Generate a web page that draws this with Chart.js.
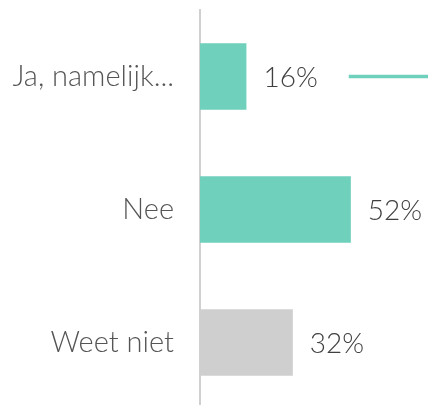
<!DOCTYPE html>
<html><head><meta charset="utf-8">
<script src="https://cdn.jsdelivr.net/npm/chart.js@4"></script>
<style>
html,body{margin:0;padding:0;background:#fff;overflow:hidden;}
#wrap{position:relative;width:428px;height:409px;}
</style></head>
<body>
<div id="wrap"><canvas id="c"></canvas></div>
<script>
const categories = ["Ja, namelijk...", "Nee", "Weet niet"];
const values = [16, 52, 32];
const valueLabels = ["16%", "52%", "32%"];
const barColors = ["#6fd0bc", "#6fd0bc", "#cfcfcf"];
const connector = [[51.4, 80], null, null];

const valueLabelPlugin = {
  id: 'valueLabels',
  afterDatasetsDraw(chart) {
    const ctx = chart.ctx;
    const meta = chart.getDatasetMeta(0);
    ctx.save();
    ctx.font = '300 28px Lato';
    ctx.fillStyle = '#404040';
    ctx.textAlign = 'left';
    ctx.textBaseline = 'middle';
    meta.data.forEach((bar, i) => {
      ctx.fillText(valueLabels[i], bar.x + 17, bar.y + 1);
    });
    ctx.restore();
  }
};

new Chart(document.getElementById('c'), {
  type: 'bar',
  data: {
    labels: categories,
    datasets: [
      { data: values, backgroundColor: barColors, categoryPercentage: 1, barPercentage: 0.5, grouped: false, order: 1 },
      { data: connector, backgroundColor: "#6fd0bc", barThickness: 3, grouped: false, order: 2 }
    ]
  },
  options: {
    indexAxis: 'y',
    responsive: true,
    maintainAspectRatio: false,
    animation: false,
    layout: { padding: { top: 10, right: 0, bottom: 0, left: 0 } },
    plugins: { legend: { display: false }, tooltip: { enabled: false } },
    scales: {
      x: { display: false, min: 0, max: 78.6 },
      y: {
        grid: { display: false, drawTicks: false },
        border: { display: true, color: '#d0d0d0', width: 2 },
        ticks: { color: '#555555', font: { family: 'Lato', size: 29, weight: '300' }, padding: 26 },
        afterFit(scale) { scale.width = 200; scale.paddingTop = 0; scale.paddingBottom = 0; }
      }
    }
  },
  plugins: [valueLabelPlugin]
});
</script>
</body></html>
